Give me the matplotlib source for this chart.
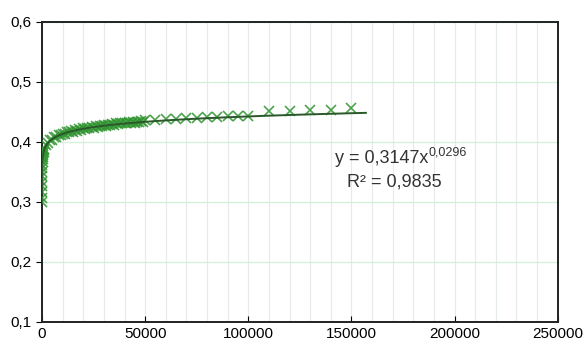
import matplotlib.pyplot as plt
import numpy as np

plt.rcParams['font.family'] = ['Liberation Sans', 'DejaVu Sans']

# measured points (x = exposure, y = value)
x_start = [1, 2, 5, 10, 20, 50, 100, 150, 200, 300, 400, 500, 600, 700, 800, 900]
y_start = [0.300, 0.306, 0.316, 0.326, 0.334, 0.343, 0.350, 0.356, 0.361, 0.366, 0.371,
           0.375, 0.378, 0.381, 0.384, 0.386]

x_dense = [1000, 2000, 3000, 4000, 5000, 6000, 7000, 8000, 9000, 10000,
           11000, 12000, 13000, 14000, 15000, 16000, 17000, 18000, 19000, 20000,
           21000, 22000, 23000, 24000, 25000, 26000, 27000, 28000, 29000, 30000,
           31000, 32000, 33000, 34000, 35000, 36000, 37000, 38000, 39000, 40000,
           41000, 42000, 43000, 44000, 45000, 46000, 47000, 48000, 49000, 50000]
y_dense = [0.388, 0.395, 0.398, 0.403, 0.404, 0.408, 0.408, 0.411, 0.411, 0.414,
           0.414, 0.417, 0.416, 0.419, 0.417, 0.420, 0.419, 0.422, 0.420, 0.423,
           0.422, 0.424, 0.423, 0.425, 0.424, 0.426, 0.425, 0.427, 0.426, 0.428,
           0.427, 0.429, 0.428, 0.430, 0.429, 0.431, 0.430, 0.431, 0.431, 0.432,
           0.431, 0.433, 0.432, 0.434, 0.432, 0.434, 0.433, 0.435, 0.434, 0.436]

x_sparse = [55000, 60000, 65000, 70000, 75000, 80000, 85000, 90000, 95000, 100000,
            110000, 120000, 130000, 140000, 150000]
y_sparse = [0.437, 0.438, 0.439, 0.440, 0.440, 0.441, 0.442, 0.443, 0.443, 0.444,
            0.451, 0.452, 0.453, 0.454, 0.456]

# power trendline from the chart label
a, b = 0.3147, 0.0296
x_trend_end = 157000

fig = plt.figure(figsize=(5.84, 3.53), dpi=100)
ax = fig.add_axes([0.072, 0.088, 0.883, 0.85])

xs = x_start + x_dense + x_sparse
ys = y_start + y_dense + y_sparse
ax.plot(xs, ys, linestyle='none', marker='x', markersize=7, markeredgewidth=1.2,
        color='#2f942f', alpha=0.85, zorder=3)

xt = np.linspace(1, x_trend_end, 2000)
ax.plot(xt, a * xt ** b, color='#2a582a', lw=1.4, zorder=4)

ax.set_xlim(0, 250000)
ax.set_ylim(0.1, 0.6)
ax.set_xticks(np.arange(0, 250001, 50000))
ax.set_xticks(np.arange(0, 250001, 10000), minor=True)
ax.set_yticks(np.arange(0.1, 0.61, 0.1))
ax.set_yticklabels([('%.1f' % v).replace('.', ',') for v in np.arange(0.1, 0.61, 0.1)])
ax.set_xticklabels(['%d' % v for v in np.arange(0, 250001, 50000)])

ax.grid(which='minor', axis='x', color='#e4ebea', lw=0.8)
ax.grid(which='major', axis='x', color='#e4ebea', lw=0.8)
ax.grid(which='major', axis='y', color='#d6f0da', lw=1.0)
ax.set_axisbelow(True)

for s in ax.spines.values():
    s.set_color('#222222')
    s.set_linewidth(1.4)
ax.tick_params(axis='x', which='major', direction='in', length=4, labelsize=11, pad=4)
ax.tick_params(axis='x', which='minor', length=0)
ax.tick_params(axis='y', direction='out', length=4, labelsize=11)

eq = ax.text(142000, 0.372, 'y = 0,3147x', fontsize=13, ha='left', va='center',
             color='#333333')
ax.annotate('0,0296', xy=(1, 0.85), xycoords=eq, fontsize=9, ha='left', va='center',
            color='#333333')
ax.text(171000, 0.333, 'R² = 0,9835', fontsize=13, ha='center', va='center', color='#333333')

fig.savefig('out.png', dpi=100)
